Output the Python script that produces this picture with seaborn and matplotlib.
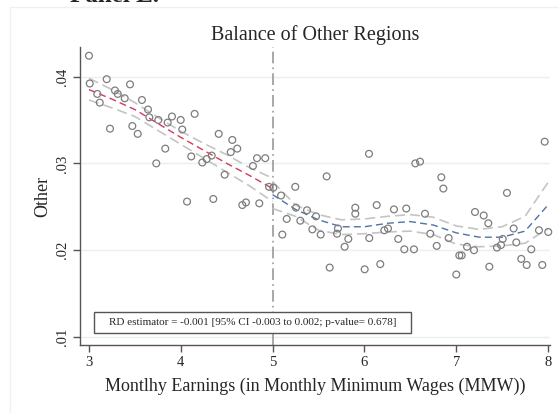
import matplotlib
matplotlib.use("Agg")
import matplotlib.pyplot as plt
from matplotlib.patches import Rectangle
import seaborn as sns
import pandas as pd

# binned means, left of the cutoff
left_x = [3.000, 3.008, 3.193, 3.090, 3.117, 3.229, 3.283, 3.313, 3.389, 3.447,
          3.472, 3.531, 3.577, 3.643, 3.657, 3.755, 3.733, 3.831, 3.857, 3.904,
          3.999, 4.016, 4.151, 4.114, 4.068, 4.234, 4.282, 4.337, 4.413, 4.561,
          4.544, 4.615, 4.478, 4.354, 4.670, 4.710, 4.786, 4.830, 4.920, 4.855,
          4.961]
left_y = [0.0424, 0.0392, 0.0397, 0.0380, 0.0370, 0.0340, 0.0384, 0.0380, 0.0375, 0.0391,
          0.0343, 0.0334, 0.0373, 0.0362, 0.0353, 0.0350, 0.0300, 0.0317, 0.0347, 0.0354,
          0.0350, 0.0339, 0.0357, 0.0308, 0.0256, 0.0301, 0.0305, 0.0309, 0.0334, 0.0327,
          0.0313, 0.0317, 0.0287, 0.0259, 0.0252, 0.0255, 0.0297, 0.0306, 0.0306, 0.0254,
          0.0273]

# binned means, right of the cutoff
right_x = [5.008, 5.092, 5.106, 5.247, 5.255, 5.154, 5.302, 5.375, 5.433, 5.473,
           5.524, 5.589, 5.622, 5.712, 5.702, 5.825, 5.785, 5.901, 5.901, 6.050,
           6.053, 6.003, 6.134, 6.217, 6.257, 6.173, 6.322, 6.369, 6.435, 6.456,
           6.540, 6.555, 6.606, 6.660, 6.718, 6.788, 6.838, 6.860, 6.918, 7.001,
           7.034, 7.060, 7.118, 7.194, 7.205, 7.300, 7.350, 7.361, 7.444, 7.488,
           7.507, 7.553, 7.626, 7.655, 7.709, 7.768, 7.818, 7.902, 7.938, 7.964,
           8.003]
right_y = [0.0272, 0.0263, 0.0218, 0.0273, 0.0249, 0.0236, 0.0234, 0.0246, 0.0224, 0.0239,
           0.0218, 0.0285, 0.0180, 0.0225, 0.0219, 0.0213, 0.0204, 0.0249, 0.0242, 0.0311,
           0.0214, 0.0178, 0.0252, 0.0223, 0.0225, 0.0184, 0.0247, 0.0213, 0.0201, 0.0248,
           0.0201, 0.0300, 0.0302, 0.0242, 0.0219, 0.0205, 0.0284, 0.0271, 0.0214, 0.0172,
           0.0194, 0.0194, 0.0204, 0.0200, 0.0244, 0.0240, 0.0231, 0.0181, 0.0203, 0.0206,
           0.0213, 0.0266, 0.0225, 0.0209, 0.0190, 0.0183, 0.0201, 0.0223, 0.0183, 0.0325,
           0.0221]

# fitted polynomial and 95% band
fit_left_x = [3.0, 3.25, 3.5, 3.75, 4.0, 4.25, 4.5, 4.75, 5.0]
fit_left = [0.0385, 0.0374, 0.0362, 0.0346, 0.0330, 0.0315, 0.0300, 0.0286, 0.0271]
ci_left_hi = [0.0398, 0.0385, 0.0370, 0.0353, 0.0337, 0.0323, 0.0310, 0.0295, 0.0283]
ci_left_lo = [0.0373, 0.0364, 0.0354, 0.0338, 0.0322, 0.0306, 0.0290, 0.0274, 0.0256]

fit_right_x = [5.0, 5.25, 5.5, 5.75, 6.0, 6.25, 6.5, 6.75, 7.0, 7.25, 7.5, 7.75, 8.0]
fit_right = [0.0264, 0.0247, 0.0235, 0.0227, 0.0227, 0.0231, 0.0233, 0.0229, 0.0220,
             0.0215, 0.0215, 0.0222, 0.0252]
ci_right_hi = [0.0279, 0.0252, 0.0241, 0.0235, 0.0236, 0.0239, 0.0241, 0.0238, 0.0228,
               0.0224, 0.0227, 0.0239, 0.0278]
ci_right_lo = [0.0248, 0.0239, 0.0223, 0.0218, 0.0219, 0.0221, 0.0222, 0.0218, 0.0207,
               0.0204, 0.0205, 0.0208, 0.0225]

y_ticks = [0.01, 0.02, 0.03, 0.04]
y_labels = [".01", ".02", ".03", ".04"]
x_ticks = [3, 4, 5, 6, 7, 8]
cutoff = 5
rd_text = "RD estimator = -0.001 [95% CI -0.003 to 0.002; p-value= 0.678]"

sns.set_style("white")
plt.rcParams["font.family"] = ["Liberation Serif", "DejaVu Serif"]

fig = plt.figure(figsize=(5.59, 4.13), dpi=100)
ax = fig.add_axes([0.1431, 0.1646, 0.8408, 0.7215])

# faint outer graph-region border
fig.patches.append(Rectangle((10 / 559, -0.1), 1.2, 1.1 - 7 / 413, transform=fig.transFigure,
                             fill=False, edgecolor="#eef1f1", linewidth=1.0))
# panel heading, cut by the top edge as in the source page
fig.text(70 / 559, 1 - 2.5 / 413, "Panel E.", fontsize=18, fontweight="bold",
         va="baseline", ha="left")

for yt in y_ticks:
    ax.axhline(yt, color="#e8f0f1", linewidth=1.0, zorder=0)

ax.axvline(cutoff, color="#999999", linewidth=1.2, linestyle=(0, (7, 2.5, 1, 2.5)), zorder=1)

pts = pd.DataFrame({"x": left_x + right_x, "y": left_y + right_y})
sns.scatterplot(data=pts, x="x", y="y", ax=ax, marker="o", s=24,
                facecolor="none", edgecolor="#7d7d7d", linewidth=0.9, zorder=3,
                clip_on=False)

band = (0, (6, 3))
for xs, ys in [(fit_left_x, ci_left_hi), (fit_left_x, ci_left_lo),
               (fit_right_x, ci_right_hi), (fit_right_x, ci_right_lo)]:
    sns.lineplot(x=xs, y=ys, ax=ax, color="#c4c4c4", linewidth=1.2, linestyle=band,
                 sort=False, zorder=2)
sns.lineplot(x=fit_left_x, y=fit_left, ax=ax, color="#d33a5a", linewidth=1.0,
             linestyle=(0, (5, 3)), sort=False, zorder=2)
sns.lineplot(x=fit_right_x, y=fit_right, ax=ax, color="#4d74a3", linewidth=1.0,
             linestyle=(0, (5, 3)), sort=False, zorder=2)

ax.set_xlim(2.902, 8.022)
ax.set_ylim(0.00908, 0.0434)
ax.set_xticks(x_ticks)
ax.set_yticks(y_ticks)
ax.set_yticklabels(y_labels, rotation=90, va="center")
ax.tick_params(axis="both", direction="out", length=5, width=1.0, color="#555555",
               labelsize=10.5, pad=3, left=True, bottom=True)
for side in ["top", "right"]:
    ax.spines[side].set_visible(False)
for side in ["left", "bottom"]:
    ax.spines[side].set_color("#555555")
    ax.spines[side].set_linewidth(1.0)

ax.set_title("Balance of Other Regions", fontsize=14.5, pad=5)
ax.set_xlabel("Montlhy Earnings (in Monthly Minimum Wages (MMW))", fontsize=13, labelpad=6)
ax.set_ylabel("Other", fontsize=13, labelpad=3)

# RD estimate note in a wide box
ax.add_patch(Rectangle((0.0298, 0.0403), 0.6745, 0.0704, transform=ax.transAxes,
                       facecolor="white", edgecolor="#555555", linewidth=1.0, zorder=4))
ax.text(0.367, 0.0755, rd_text, transform=ax.transAxes, ha="center", va="center",
        fontsize=8, zorder=5)

fig.savefig("out.png", dpi=100)
